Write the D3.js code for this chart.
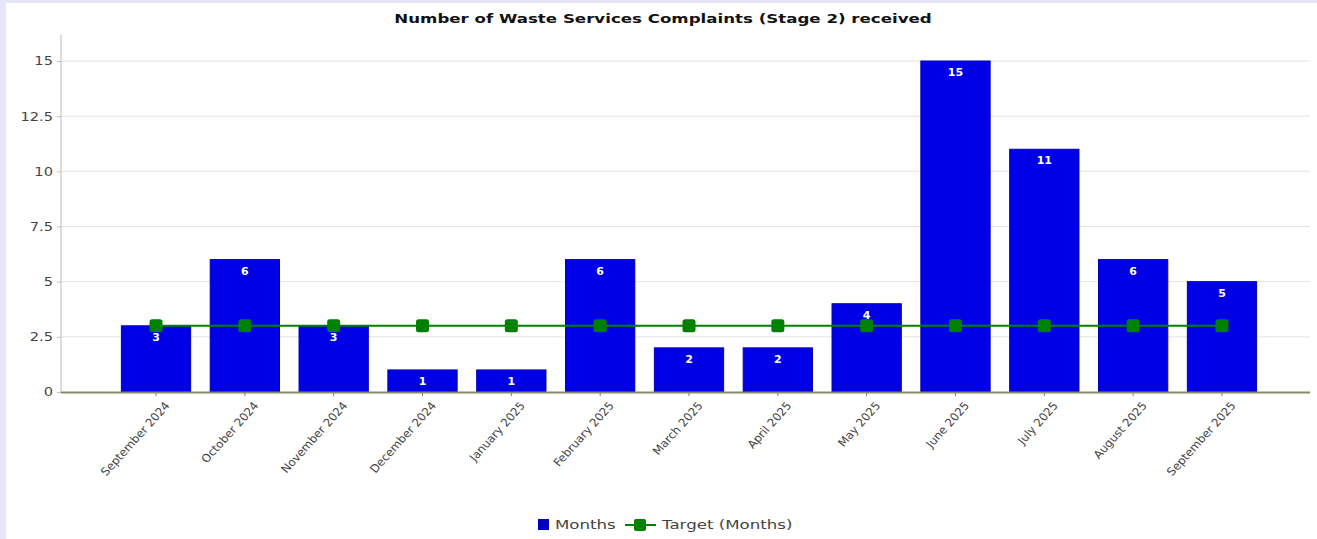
<!DOCTYPE html>
<html>
<head>
<meta charset="utf-8">
<script src="https://cdn.jsdelivr.net/npm/d3@7/dist/d3.min.js"></script>
<style>
  html, body { margin: 0; padding: 0; background: #e6e6fa; }
  svg { display: block; }
</style>
</head>
<body>
<svg id="chart" width="1317" height="539"></svg>
<script>
// Monthly complaint counts and the flat monthly target
const months = ["September 2024", "October 2024", "November 2024", "December 2024",
  "January 2025", "February 2025", "March 2025", "April 2025", "May 2025",
  "June 2025", "July 2025", "August 2025", "September 2025"];
const complaints = [3, 6, 3, 1, 1, 6, 2, 2, 4, 15, 11, 6, 5];
const target = [3, 3, 3, 3, 3, 3, 3, 3, 3, 3, 3, 3, 3];
const yTicks = [0, 2.5, 5, 7.5, 10, 12.5, 15];

const chartTitle = "Number of Waste Services Complaints (Stage 2) received";
const seriesNames = ["Months", "Target (Months)"];

const W = 1317, H = 539;
const plot = { left: 61, right: 1310, top: 35, bottom: 392 };
const font = "Tahoma, 'DejaVu Sans', Verdana, sans-serif";
const wide = 1.28; // horizontal stretch of the wide label face

const svg = d3.select("#chart");

// white panel inside the lavender frame
svg.append("rect").attr("x", 6).attr("y", 3).attr("width", W - 6).attr("height", H - 3).attr("fill", "#ffffff");

const x = d3.scaleBand().domain(months).range([111.6, 1266.4]).paddingInner(0.22).paddingOuter(0.11);
const y = d3.scaleLinear().domain([0, 15]).range([plot.bottom, 61]);

// title
svg.append("text")
  .attr("transform", `translate(663,23) scale(${wide},1)`)
  .attr("text-anchor", "middle")
  .attr("font-family", font).attr("font-size", 13).attr("font-weight", "bold")
  .attr("fill", "#111")
  .text(chartTitle);

// horizontal grid
svg.append("g").selectAll("line").data(yTicks.filter(d => d > 0)).join("line")
  .attr("x1", plot.left).attr("x2", plot.right)
  .attr("y1", d => y(d)).attr("y2", d => y(d))
  .attr("stroke", "#e4e4e4").attr("stroke-width", 1);

// y axis
const yAxis = svg.append("g").attr("transform", `translate(${plot.left},0)`)
  .call(d3.axisLeft(y).tickValues(yTicks).tickSize(4).tickPadding(0)
    .tickFormat(d => String(d)));
yAxis.select(".domain").remove();
yAxis.selectAll(".tick line").attr("stroke", "#bbb");
yAxis.selectAll("text")
  .attr("x", null)
  .attr("transform", `translate(-8,0) scale(1.22,1)`)
  .attr("font-family", font).attr("font-size", 12).attr("fill", "#444");
svg.append("line").attr("x1", plot.left).attr("x2", plot.left)
  .attr("y1", plot.top).attr("y2", plot.bottom)
  .attr("stroke", "#bbb").attr("stroke-width", 1);

// bars
svg.append("g").selectAll("rect").data(complaints).join("rect")
  .attr("x", (d, i) => x(months[i]))
  .attr("y", d => y(d))
  .attr("width", x.bandwidth())
  .attr("height", d => y(0) - y(d))
  .attr("fill", "#0000e6")
  .attr("stroke", "#0000b4").attr("stroke-width", 1);

// x axis
const xAxis = svg.append("g").attr("transform", `translate(0,${plot.bottom})`)
  .call(d3.axisBottom(x).tickSize(4).tickPadding(6));
xAxis.select(".domain").remove();
xAxis.selectAll(".tick line").attr("stroke", "#777");
xAxis.selectAll("text")
  .attr("font-family", font).attr("font-size", 11).attr("fill", "#444")
  .attr("text-anchor", "end")
  .attr("y", 0)
  .attr("transform", `translate(8,9) scale(1.08,1) rotate(-50)`)
  .attr("dx", 0).attr("dy", "0.7em");
svg.append("line").attr("x1", plot.left).attr("x2", plot.right)
  .attr("y1", plot.bottom + 0.5).attr("y2", plot.bottom + 0.5)
  .attr("stroke", "#8a8a6a").attr("stroke-width", 2);

// value labels inside bar tops
svg.append("g").selectAll("text").data(complaints).join("text")
  .attr("x", (d, i) => x(months[i]) + x.bandwidth() / 2)
  .attr("y", d => y(d) + 15)
  .attr("text-anchor", "middle")
  .attr("font-family", font).attr("font-size", 11).attr("font-weight", "bold")
  .attr("fill", "#ffffff")
  .text(d => d);

// target line with square markers
const cx = i => x(months[i]) + x.bandwidth() / 2;
const line = d3.line().x((d, i) => cx(i)).y(d => y(d));
svg.append("path").datum(target)
  .attr("d", line)
  .attr("fill", "none").attr("stroke", "#008000").attr("stroke-width", 2);
svg.append("g").selectAll("rect").data(target).join("rect")
  .attr("x", (d, i) => cx(i) - 6.5).attr("y", d => y(d) - 6.5)
  .attr("width", 13).attr("height", 13).attr("rx", 2.5)
  .attr("fill", "#008000");

// legend
const lg = svg.append("g").attr("transform", "translate(538,525)");
lg.append("rect").attr("x", 0).attr("y", -6).attr("width", 11).attr("height", 11).attr("fill", "#0000c0");
lg.append("text").attr("transform", `translate(17,4) scale(${wide},1)`)
  .attr("font-family", font).attr("font-size", 13).attr("fill", "#444").text(seriesNames[0]);
lg.append("line").attr("x1", 87).attr("x2", 118).attr("y1", 0).attr("y2", 0)
  .attr("stroke", "#008000").attr("stroke-width", 2);
lg.append("rect").attr("x", 96).attr("y", -6).attr("width", 12).attr("height", 12).attr("rx", 2).attr("fill", "#008000");
lg.append("text").attr("transform", `translate(124,4) scale(${wide},1)`)
  .attr("font-family", font).attr("font-size", 13).attr("fill", "#444").text(seriesNames[1]);
</script>
</body>
</html>
